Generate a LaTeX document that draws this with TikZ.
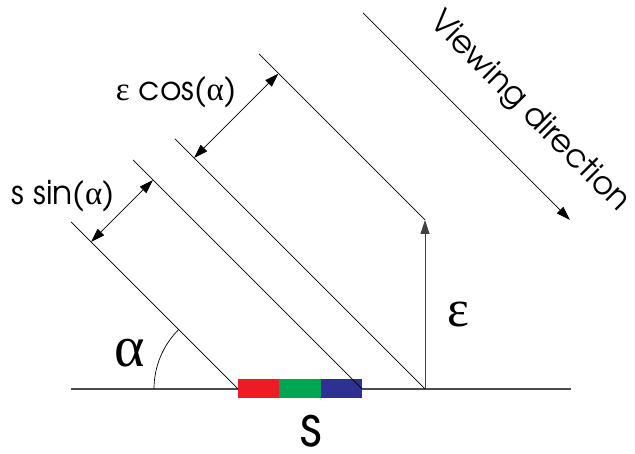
\documentclass[tikz,border=0pt]{standalone}
\usepackage{fontspec}
\setmainfont{texgyreadventor}[Extension=.otf, UprightFont=*-regular]
\newfontfamily\greek{Liberation Serif}
\usetikzlibrary{arrows.meta,calc}
\definecolor{barred}{HTML}{ED1C24}
\definecolor{bargreen}{HTML}{00A651}
\definecolor{barblue}{HTML}{2E3192}
\tikzset{
  ray/.style={draw=black, line width=0.7pt},
  ground/.style={draw=black!70, line width=1.3pt},
  tip/.style={-{Triangle[length=14pt,width=9pt]}},
  dim/.style={{Triangle[length=14pt,width=9pt]}-{Triangle[length=14pt,width=9pt]}, draw=black, line width=0.7pt},
  lbl/.style={inner sep=0pt, font=\fontsize{33}{38}\selectfont},
  glbl/.style={inner sep=0pt, font=\fontsize{58}{62}\selectfont\greek},
}
\begin{document}
\begin{tikzpicture}[x=1pt,y=1pt]
\useasboundingbox (0,0) rectangle (635,454);
% base points
\coordinate (gl) at (71,65);
\coordinate (gr) at (571,65);
\coordinate (p1) at (238,65);
\coordinate (p2) at (362,65);
\coordinate (p3) at (425,65);
\coordinate (q1) at (71,232);
\coordinate (q2) at (133,294);
\coordinate (q3) at (175,315);
\coordinate (e) at (425,234);
\coordinate (q4) at (259,400);
\coordinate (v1) at (363,441);
\coordinate (v2) at (570,234);
% ground line
\draw[ground] (gl) -- (gr);
% colour bar
\fill[barred] (238,56) rectangle (279.3,75);
\fill[bargreen] (279.3,56) rectangle (320.7,75);
\fill[barblue] (320.7,56) rectangle (362,75);
% rays
\draw[ray] (p1) -- (q1);
\draw[ray] (p2) -- (q2);
\draw[ray] (p3) -- (q3);
\draw[ray] (e) -- (q4);
\draw[ray, draw=black!75, line width=0.9pt, tip] (p3) -- (e);
\draw[ray, tip] (v1) -- (v2);
% angle arc
\draw[ray] ($(p1)+(135:84)$) arc[start angle=135, end angle=180, radius=84];
% dimension arrows
\coordinate (a1) at (91,212);
\coordinate (a2) at (153,274);
\coordinate (b1) at (194,296);
\coordinate (b2) at (278.5,380.5);
\draw[dim] (a1) -- (a2);
\draw[dim] (b1) -- (b2);
% labels
\node[lbl] (ssin) at (63,258) {s sin({\greek α})};
\node[lbl] (ecos) at (176,362) {{\greek ε} cos({\greek α})};
\node[lbl, font=\fontsize{32}{36}\selectfont, rotate=-45] (view) at (529,342) {Viewing direction};
\node[glbl] (alpha) at (130,101) {α};
\node[glbl, font=\fontsize{52}{56}\selectfont\greek] (eps) at (458,139) {ε};
\node[lbl, font=\fontsize{56}{60}\selectfont, anchor=base, text depth=0pt] (s) at (311,7) {s};
\end{tikzpicture}
\end{document}
